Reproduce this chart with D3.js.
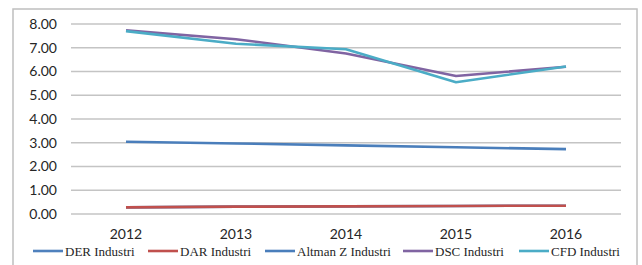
<!DOCTYPE html>
<html>
<head>
<meta charset="utf-8">
<script src="https://cdn.jsdelivr.net/npm/d3@7"></script>
<style>
  body { margin: 0; background: #fff; }
  .legend-text { font-family: "Liberation Serif", "DejaVu Serif", serif; font-size: 13px; }
  .axis-text { font-family: Lato, "Open Sans", sans-serif; font-size: 14px; }
</style>
</head>
<body>
<div id="chart"></div>
<script>
var years = ["2012", "2013", "2014", "2015", "2016"];
var derIndustri = [0.28, 0.31, 0.32, 0.34, 0.35];
var darIndustri = [0.28, 0.31, 0.32, 0.34, 0.35];
var altmanIndustri = [3.04, 2.97, 2.89, 2.81, 2.73];
var dscIndustri = [7.73, 7.36, 6.76, 5.81, 6.20];
var cfdIndustri = [7.70, 7.17, 6.94, 5.55, 6.21];
var yTicks = [0, 1, 2, 3, 4, 5, 6, 7, 8];

var seriesNames = ["DER Industri", "DAR Industri", "Altman Z Industri", "DSC Industri", "CFD Industri"];
var seriesColors = ["#4f81bd", "#c0504d", "#4a7ebb", "#8064a2", "#4bacc6"];
var seriesValues = [derIndustri, darIndustri, altmanIndustri, dscIndustri, cfdIndustri];

var width = 642, height = 265;
var margin = {top: 24, left: 71, right: 21, bottom: 51};

var svg = d3.select("#chart").append("svg")
    .attr("width", width)
    .attr("height", height);

// outer frame
svg.append("rect")
    .attr("x", 13).attr("y", 9)
    .attr("width", 624).attr("height", 270)
    .attr("fill", "none")
    .attr("stroke", "#bfbfbf")
    .attr("stroke-width", 1.5);

var x = d3.scaleBand()
    .domain(years)
    .range([margin.left, width - margin.right]);

var y = d3.scaleLinear()
    .domain([0, 8])
    .range([height - margin.bottom, margin.top]);

// gridlines
svg.append("g").selectAll("line")
    .data(yTicks)
    .enter().append("line")
    .attr("x1", margin.left)
    .attr("x2", width - margin.right)
    .attr("y1", function(d){ return y(d); })
    .attr("y2", function(d){ return y(d); })
    .attr("stroke", "#c4c4c4")
    .attr("stroke-width", 1.3);

// y labels
svg.append("g").selectAll("text")
    .data(yTicks)
    .enter().append("text")
    .attr("class", "axis-text")
    .attr("x", 57)
    .attr("y", function(d){ return y(d); })
    .attr("dy", "0.35em")
    .attr("text-anchor", "end")
    .attr("fill", "#262626")
    .text(function(d){ return d3.format(".2f")(d); });

// x labels
svg.append("g").selectAll("text")
    .data(years)
    .enter().append("text")
    .attr("class", "axis-text")
    .attr("x", function(d){ return x(d) + x.bandwidth() / 2; })
    .attr("y", 239)
    .attr("text-anchor", "middle")
    .attr("fill", "#262626")
    .text(function(d){ return d; });

var line = d3.line()
    .x(function(d, i){ return x(years[i]) + x.bandwidth() / 2; })
    .y(function(d){ return y(d); });

svg.append("g").selectAll("path")
    .data(seriesValues)
    .enter().append("path")
    .attr("d", function(d){ return line(d); })
    .attr("fill", "none")
    .attr("stroke", function(d, i){ return seriesColors[i]; })
    .attr("stroke-width", 2.6)
    .attr("stroke-linejoin", "round");

// legend
var legendX = [33, 148, 265, 403, 519];
var legend = svg.append("g").selectAll("g")
    .data(seriesNames)
    .enter().append("g")
    .attr("transform", function(d, i){ return "translate(" + legendX[i] + ",251)"; });

legend.append("line")
    .attr("x1", 0).attr("x2", 30)
    .attr("stroke", function(d, i){ return seriesColors[i]; })
    .attr("stroke-width", 2.6);

legend.append("text")
    .attr("class", "legend-text")
    .attr("x", 32)
    .attr("dy", "0.35em")
    .attr("fill", "#262626")
    .text(function(d){ return d; });
</script>
</body>
</html>
